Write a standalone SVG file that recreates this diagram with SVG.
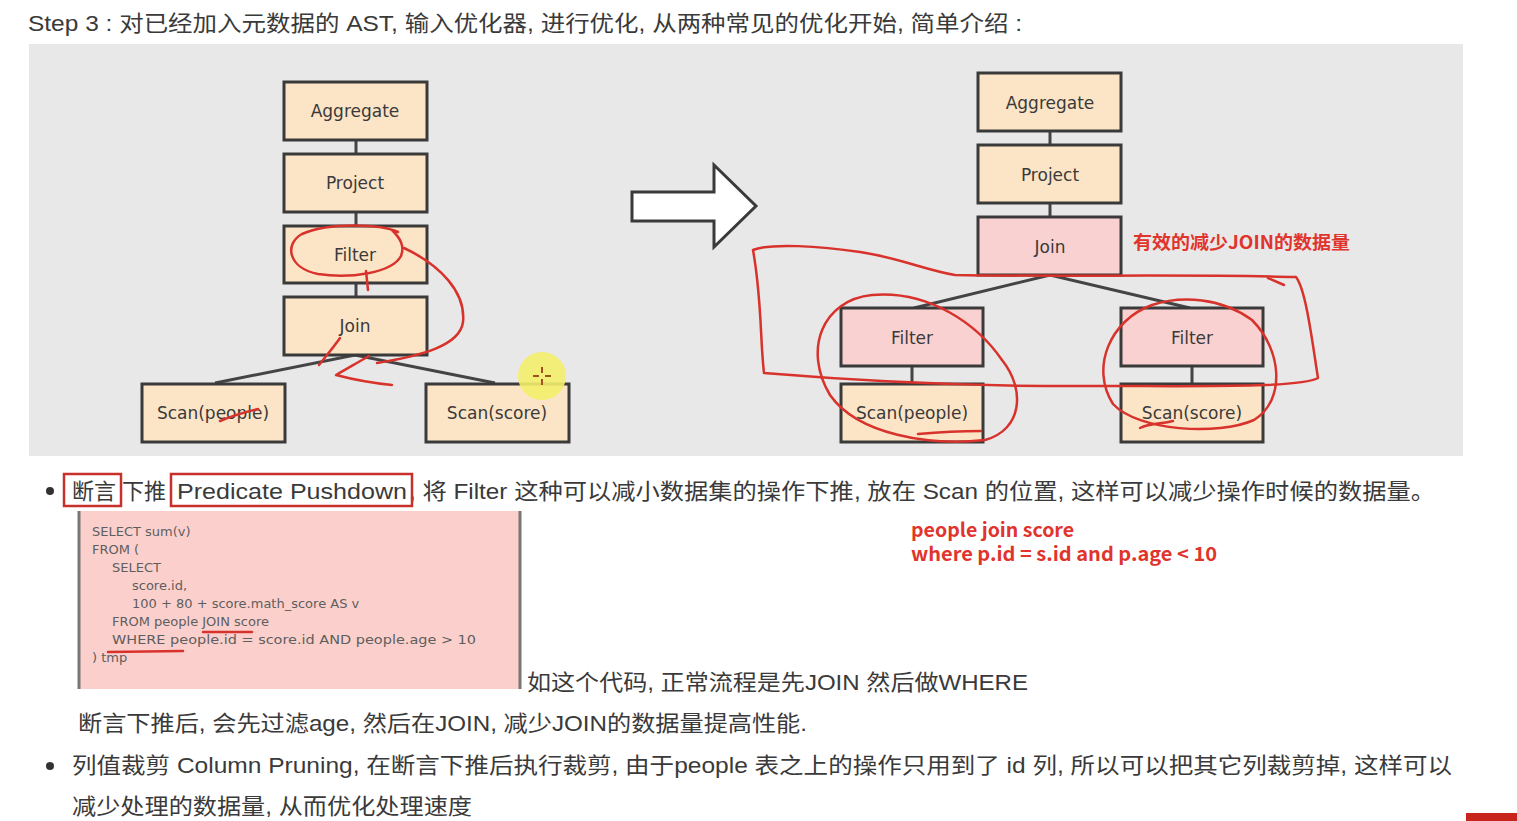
<svg xmlns="http://www.w3.org/2000/svg" width="1517" height="821" viewBox="0 0 1517 821">
<style>
.node rect{stroke:#3a3a3a;stroke-width:3}
.peach{fill:#fce4c6}
.pink{fill:#f9d1d0}
.nl{font-family:"DejaVu Sans",sans-serif;font-size:17px;fill:#3a3a3a;text-anchor:middle}
.conn{stroke:#444;stroke-width:3;fill:none}
.red{stroke:#d8322c;stroke-width:2.5;fill:none;stroke-linecap:round;stroke-linejoin:round}
.body{font-family:"Liberation Sans","Noto Sans CJK SC",sans-serif;font-size:22px;fill:#3a3a3a}
.code{font-family:"DejaVu Sans",sans-serif;font-size:13px;fill:#5e5e5e}
.rt{font-family:"Noto Sans CJK SC","Liberation Sans",sans-serif;font-weight:bold;fill:#e0342c}
</style>
<rect x="0" y="0" width="1517" height="821" fill="#ffffff"/>
<text class="body" x="28" y="31" textLength="994" lengthAdjust="spacingAndGlyphs">Step 3 : 对已经加入元数据的 AST, 输入优化器, 进行优化, 从两种常见的优化开始, 简单介绍 :</text>
<rect x="29" y="44" width="1434" height="412" fill="#e8e8e8"/>

<g id="connectors">
<line class="conn" x1="356" y1="140" x2="356" y2="153"/>
<line class="conn" x1="356" y1="212" x2="356" y2="225"/>
<line class="conn" x1="356" y1="283" x2="356" y2="297"/>
<polyline class="conn" points="215,383 355,355 495,383"/>
<line class="conn" x1="1050" y1="131" x2="1050" y2="145"/>
<line class="conn" x1="1050" y1="203" x2="1050" y2="217"/>
<polyline class="conn" points="914,308 1050,275 1190,308"/>
<line class="conn" x1="912" y1="366" x2="912" y2="384"/>
<line class="conn" x1="1192" y1="366" x2="1192" y2="384"/>
</g>

<g id="l-aggregate" class="node"><rect class="peach" x="284" y="82" width="143" height="58"/><text class="nl" x="355" y="117">Aggregate</text></g>
<g id="l-project" class="node"><rect class="peach" x="284" y="154" width="143" height="58"/><text class="nl" x="355" y="189">Project</text></g>
<g id="l-filter" class="node"><rect class="peach" x="284" y="226" width="143" height="57"/><text class="nl" x="355" y="261">Filter</text></g>
<g id="l-join" class="node"><rect class="peach" x="284" y="297" width="143" height="58"/><text class="nl" x="355" y="332">Join</text></g>
<g id="l-scan-people" class="node"><rect class="peach" x="142" y="384" width="143" height="58"/><text class="nl" x="213" y="419">Scan(people)</text></g>
<g id="l-scan-score" class="node"><rect class="peach" x="426" y="384" width="143" height="58"/><text class="nl" x="497" y="419">Scan(score)</text></g>

<g id="arrow"><path d="M632 192 L714 192 L714 165 L756 206 L714 247 L714 221 L632 221 Z" fill="#ffffff" stroke="#3a3a3a" stroke-width="3" stroke-linejoin="miter"/></g>

<g id="r-aggregate" class="node"><rect class="peach" x="978" y="73" width="143" height="58"/><text class="nl" x="1050" y="109">Aggregate</text></g>
<g id="r-project" class="node"><rect class="peach" x="978" y="145" width="143" height="58"/><text class="nl" x="1050" y="181">Project</text></g>
<g id="r-join" class="node"><rect class="pink" x="978" y="217" width="143" height="58"/><text class="nl" x="1050" y="253">Join</text></g>
<g id="r-filter-people" class="node"><rect class="pink" x="841" y="308" width="142" height="58"/><text class="nl" x="912" y="344">Filter</text></g>
<g id="r-filter-score" class="node"><rect class="pink" x="1121" y="308" width="142" height="58"/><text class="nl" x="1192" y="344">Filter</text></g>
<g id="r-scan-people" class="node"><rect class="peach" x="841" y="384" width="142" height="58"/><text class="nl" x="912" y="419">Scan(people)</text></g>
<g id="r-scan-score" class="node"><rect class="peach" x="1121" y="384" width="142" height="58"/><text class="nl" x="1192" y="419">Scan(score)</text></g>

<text class="rt" x="1133" y="249" font-size="18" textLength="217" lengthAdjust="spacingAndGlyphs">有效的减少JOIN的数据量</text>

<g id="annotations">
<path class="red" d="M398 232 C380 224 330 222 302 234 C284 244 288 268 318 274 C350 279 392 273 401 256 C405 246 400 238 392 230"/>
<path class="red" d="M404 248 C440 265 466 292 463 322 C460 346 420 356 377 363"/>
<path class="red" d="M369 356 C355 364 345 370 336 375 C355 380 372 383 392 385"/>
<path class="red" d="M366 271 L368 290"/>
<path class="red" d="M340 338 C333 348 326 356 319 365"/>
<path class="red" d="M220 421 C232 416 245 412 258 409"/>
<path class="red" d="M753 250 C770 243 820 246 860 252 C900 258 925 270 955 275 C1050 277 1200 274 1296 277 C1306 290 1312 340 1318 378 C1300 388 1200 386 1100 386 C980 387 860 381 764 373 C760 340 762 300 753 250"/>
<path class="red" d="M1268 278 L1284 285"/>
<path class="red" d="M872 295 C822 300 803 350 830 395 C858 435 930 446 985 440 C1022 430 1026 390 1002 360 C978 325 930 290 872 295 Z"/>
<path class="red" d="M918 434 C940 432 962 431 981 431"/>
<path class="red" d="M1152 305 C1110 320 1090 368 1113 404 C1138 431 1218 436 1254 420 C1286 400 1282 350 1252 320 C1222 298 1182 295 1152 305 Z"/>
<path class="red" d="M1140 428 C1150 423 1162 424 1173 421"/>
</g>

<g id="cursor">
<circle cx="542" cy="376" r="24" fill="#f4ee6c" opacity="0.9"/>
<g stroke="#a0521e" stroke-width="2">
<line x1="533" y1="376" x2="539" y2="376"/><line x1="545" y1="376" x2="551" y2="376"/>
<line x1="542" y1="367" x2="542" y2="373"/><line x1="542" y1="379" x2="542" y2="385"/>
</g>
</g>

<circle cx="50" cy="491" r="4" fill="#333"/>
<text class="body" x="72" y="499">断言</text>
<text class="body" x="122" y="499">下推</text>
<text class="body" x="177" y="499" textLength="230" lengthAdjust="spacingAndGlyphs">Predicate Pushdown</text>
<text class="body" x="409" y="499" textLength="1026" lengthAdjust="spacingAndGlyphs">, 将 Filter 这种可以减小数据集的操作下推, 放在 Scan 的位置, 这样可以减少操作时候的数据量。</text>
<rect x="64" y="474" width="57" height="32" fill="none" stroke="#c8302c" stroke-width="2.5"/>
<rect x="171" y="474" width="241" height="32" fill="none" stroke="#c8302c" stroke-width="2.5"/>

<g id="code">
<rect x="79" y="511" width="441" height="178" fill="#fbd0cc"/>
<line x1="79" y1="511" x2="79" y2="689" stroke="#777" stroke-width="3"/>
<line x1="520" y1="511" x2="520" y2="689" stroke="#777" stroke-width="3"/>
<text class="code" x="92" y="536">SELECT sum(v)</text>
<text class="code" x="92" y="554">FROM (</text>
<text class="code" x="112" y="572">SELECT</text>
<text class="code" x="132" y="590">score.id,</text>
<text class="code" x="132" y="608">100 + 80 + score.math_score AS v</text>
<text class="code" x="112" y="626">FROM people JOIN score</text>
<text class="code" x="112" y="644" textLength="364" lengthAdjust="spacingAndGlyphs">WHERE people.id = score.id AND people.age &gt; 10</text>
<text class="code" x="92" y="662">) tmp</text>
<path class="red" d="M203 632 L252 632"/>
<path class="red" d="M108 652 L183 651"/>
</g>

<text class="rt" x="911" y="537" font-size="19" textLength="163" lengthAdjust="spacingAndGlyphs">people join score</text>
<text class="rt" x="911" y="561" font-size="19" textLength="306" lengthAdjust="spacingAndGlyphs">where p.id = s.id and p.age &lt; 10</text>

<text class="body" x="527" y="690" textLength="501" lengthAdjust="spacingAndGlyphs">如这个代码, 正常流程是先JOIN 然后做WHERE</text>
<text class="body" x="78" y="731" textLength="729" lengthAdjust="spacingAndGlyphs">断言下推后, 会先过滤age, 然后在JOIN, 减少JOIN的数据量提高性能.</text>
<circle cx="50" cy="766" r="4" fill="#333"/>
<text class="body" x="72" y="773" textLength="1380" lengthAdjust="spacingAndGlyphs">列值裁剪 Column Pruning, 在断言下推后执行裁剪, 由于people 表之上的操作只用到了 id 列, 所以可以把其它列裁剪掉, 这样可以</text>
<text class="body" x="72" y="814" textLength="400" lengthAdjust="spacingAndGlyphs">减少处理的数据量, 从而优化处理速度</text>
<rect x="1466" y="813" width="51" height="8" fill="#c8261c"/>
</svg>
